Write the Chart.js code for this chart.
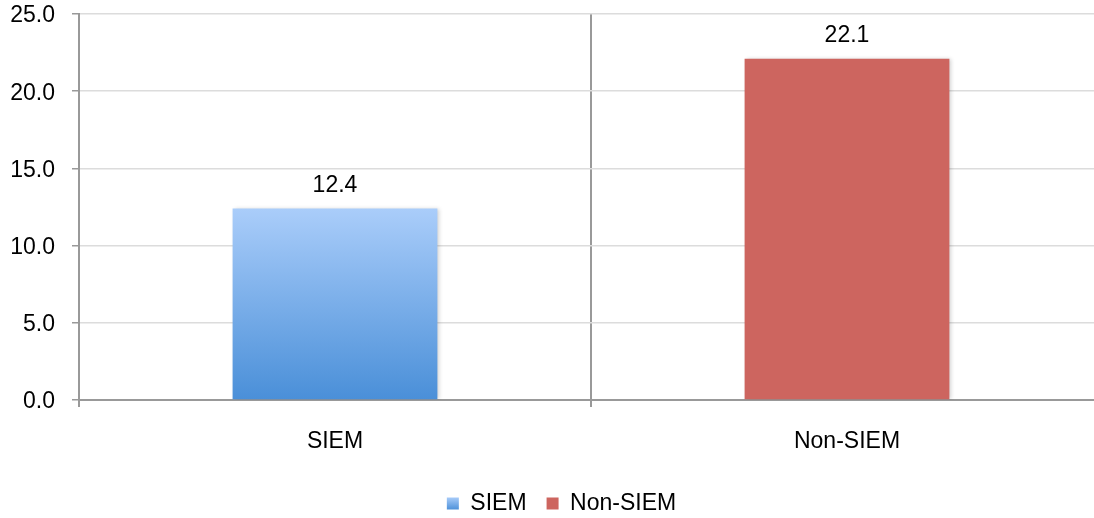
<!DOCTYPE html>
<html>
<head>
<meta charset="utf-8">
<script src="https://cdn.jsdelivr.net/npm/chart.js@4/dist/chart.umd.min.js"></script>
<style>
  html, body { margin: 0; padding: 0; background: #fff; overflow: hidden; }
  #wrap { width: 1120px; height: 525px; position: relative; }
</style>
</head>
<body>
<div id="wrap"><canvas id="c" width="1120" height="525"></canvas></div>
<script>
const categories = ["SIEM", "Non-SIEM"];
const siemValues = [12.4, null];
const nonSiemValues = [null, 22.1];
const yTicks = [0, 5, 10, 15, 20, 25];

const FONT = "'Liberation Sans', Arial, Helvetica, sans-serif";
const FSIZE = 23;

function siemFill(context) {
  const chart = context.chart;
  const ctx = chart.ctx;
  if (context.type === 'data' && chart.chartArea && chart.scales.y) {
    const top = chart.scales.y.getPixelForValue(context.raw || 0);
    const bottom = chart.scales.y.getPixelForValue(0);
    const g = ctx.createLinearGradient(0, top, 0, bottom);
    g.addColorStop(0, '#aacdfa');
    g.addColorStop(1, '#4a8fd8');
    return g;
  }
  return '#7fb2ee';
}

const shadowPlugin = {
  id: 'barShadow',
  beforeDatasetDraw(chart) {
    const ctx = chart.ctx;
    ctx.save();
    ctx.shadowColor = 'rgba(0,0,0,0.18)';
    ctx.shadowBlur = 4;
    ctx.shadowOffsetX = 2;
    ctx.shadowOffsetY = 0;
  },
  afterDatasetDraw(chart) {
    chart.ctx.restore();
  }
};

const legendShift = {
  id: 'legendShift',
  afterLayout(chart) {
    if (chart.legend) { chart.legend.left += 10; chart.legend.right += 10; }
  }
};

const valueLabels = {
  id: 'valueLabels',
  afterDatasetsDraw(chart) {
    const ctx = chart.ctx;
    ctx.save();
    ctx.font = FSIZE + 'px ' + FONT;
    ctx.fillStyle = '#000';
    ctx.textAlign = 'center';
    ctx.textBaseline = 'middle';
    chart.data.datasets.forEach((ds, di) => {
      const meta = chart.getDatasetMeta(di);
      meta.data.forEach((el, i) => {
        const v = ds.data[i];
        if (v === null || v === undefined) return;
        ctx.fillText(v.toFixed(1), el.x, el.y - 23);
      });
    });
    ctx.restore();
  }
};

new Chart(document.getElementById('c'), {
  type: 'bar',
  data: {
    labels: categories,
    datasets: [
      { label: 'SIEM', data: siemValues, backgroundColor: siemFill, borderWidth: 0 },
      { label: 'Non-SIEM', data: nonSiemValues, backgroundColor: '#cd655f', borderWidth: 0 }
    ]
  },
  options: {
    responsive: false,
    animation: false,
    events: [],
    layout: { padding: { top: 14, right: 17, left: 0, bottom: 0 } },
    datasets: { bar: { grouped: false, barPercentage: 0.4, categoryPercentage: 1.0 } },
    scales: {
      x: {
        offset: true,
        afterFit(s) { s.height = 72; s.paddingLeft = 0; s.paddingRight = 0; },
        grid: { offset: true, color: '#999999', lineWidth: 2, tickLength: 7, tickColor: '#999999', drawOnChartArea: true },
        border: { color: '#999999', width: 2 },
        ticks: { color: '#000', font: { family: FONT, size: FSIZE }, padding: 21 }
      },
      y: {
        min: 0, max: 25,
        afterFit(s) { s.width = 79; s.paddingTop = 0; s.paddingBottom = 0; },
        afterBuildTicks(s) { s.ticks = yTicks.map(v => ({ value: v })); },
        grid: { color: '#dcdcdc', lineWidth: 1.5, tickLength: 7, tickColor: '#999999' },
        border: { color: '#999999', width: 2 },
        ticks: { color: '#000', font: { family: FONT, size: FSIZE }, padding: 17, labelOffset: 2,
                 callback: v => Number(v).toFixed(1) }
      }
    },
    plugins: {
      legend: {
        position: 'bottom',
        labels: {
          color: '#000', font: { family: FONT, size: FSIZE }, boxWidth: 12, boxHeight: 12, padding: 20,
          generateLabels(chart) {
            const items = Chart.defaults.plugins.legend.labels.generateLabels(chart);
            const h = chart.height || 525;
            const g = chart.ctx.createLinearGradient(0, h - 28, 0, h - 15);
            g.addColorStop(0, '#aacdfa');
            g.addColorStop(1, '#4a8fd8');
            items[0].fillStyle = g;
            items.forEach(it => { it.lineWidth = 0; it.strokeStyle = 'rgba(0,0,0,0)'; });
            return items;
          }
        }
      },
      tooltip: { enabled: false }
    }
  },
  plugins: [shadowPlugin, valueLabels, legendShift]
});
</script>
</body>
</html>
